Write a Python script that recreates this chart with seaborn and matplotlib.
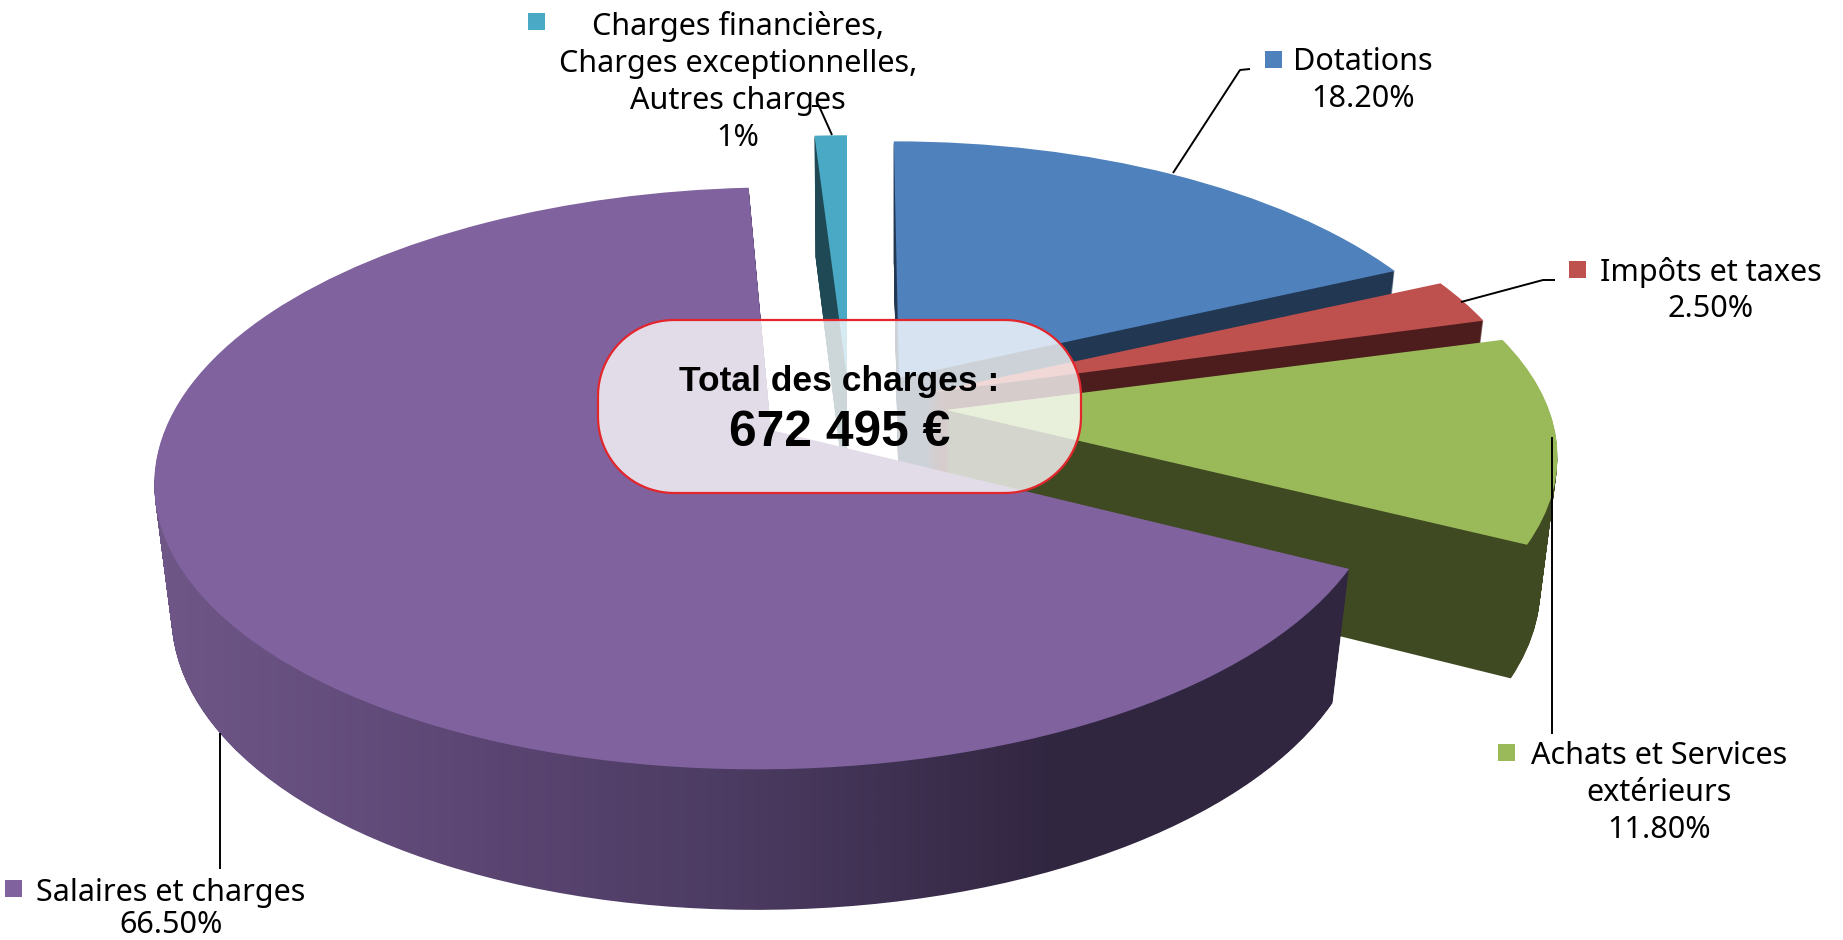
import numpy as np
import seaborn as sns
import matplotlib.pyplot as plt
import matplotlib.transforms as mtransforms
from matplotlib.patches import PathPatch, Rectangle
from matplotlib.path import Path

categories = ["Dotations", "Impôts et taxes", "Achats et Services\nextérieurs",
              "Salaires et charges",
              "Charges financières,\nCharges exceptionnelles,\nAutres charges"]
shares = [18.2, 2.5, 11.8, 66.5, 1.0]
share_labels = ["18.20%", "2.50%", "11.80%", "66.50%", "1%"]
total_title = "Total des charges :"
total_value = "672 495 €"

top_colors = ["#4f81bd", "#be504e", "#9aba5a", "#80629e", "#4aa9c4"]
wall_colors = ["#213752", "#4d1d1d", "#3f4a22", "#32273f", "#1f4a55"]
wall_ramp = ["#6f5888", "#5d4775", "#4a3a60", "#312640", "#32273f"]

# apex of each exploded slice on the picture, and paint order (back to front)
apex = [(899, 378), (927, 393), (946, 410), (771, 430), (847, 378)]
rank = [1, 2, 3, 4, 0]
# small per slice corrections of the camera: x scale, y scale, lean
fit = [(0.97, 0.975, -6), (1.0, 1.0, 0), (1.0, 0.97, 0), (1.005, 1.0, 12), (1.0, 1.0, 0)]

# camera of the 3d pie
SX, SY, PERSP = 603.0, 283.0, 0.166
DEPTH = 129.0
N_LAYERS = 130

sns.set_theme(style="white")
plt.rcParams["font.family"] = ["Noto Sans", "DejaVu Sans"]


class PiePlane(mtransforms.Transform):
    # maps the flat pie (unit circle) to the picture, t = 0 top face, t = 1 bottom face
    input_dims = 2
    output_dims = 2

    def __init__(self, centre, t, fit_i):
        super().__init__()
        self.centre = centre
        self.t = t
        self.fit_i = fit_i

    def transform_non_affine(self, values):
        values = np.asarray(values)
        fx, fy, lean = self.fit_i
        w = 1 + PERSP * values[:, 1]
        sx = fx * SX * (1 - 0.028 * self.t)
        sy = fy * SY * (1 + 0.034 * self.t)
        x = self.centre[0] + (sx * values[:, 0] + lean * values[:, 1]) / w
        y = self.centre[1] + DEPTH * self.t - sy * values[:, 1] / w
        return np.column_stack([x, y])


def rounded_box(x0, y0, x1, y1, r):
    # box outline with true circular corners
    a = np.linspace(0, np.pi / 2, 24)
    pts = np.vstack([
        np.column_stack([x1 - r + r * np.sin(a), y0 + r - r * np.cos(a)]),
        np.column_stack([x1 - r + r * np.cos(a), y1 - r + r * np.sin(a)]),
        np.column_stack([x0 + r - r * np.sin(a), y1 - r + r * np.cos(a)]),
        np.column_stack([x0 + r - r * np.cos(a), y0 + r - r * np.sin(a)]),
    ])
    return Path(np.vstack([pts, pts[:1]]), closed=True)


fig = plt.figure(figsize=(18.43, 9.40), dpi=100)
ax = fig.add_axes([0, 0, 1, 1])

# walls: pile of pies, deepest first
purple_paths = []
charges_clip = Rectangle((0, 0), 1843, 412, transform=ax.transData)
for t in np.linspace(1, 0, N_LAYERS):
    colors = top_colors if t == 0 else wall_colors
    wedges, _ = ax.pie(shares, startangle=90, counterclock=False, colors=colors, radius=1)
    for i, w in enumerate(wedges):
        plane = PiePlane(apex[i], t, fit[i])
        w.set_transform(plane + ax.transData)
        w.set_zorder(rank[i] + 0.5 * (1 - t))
        w.set_linewidth(0)
        if i == 3 and t > 0:
            w.set_visible(False)
            purple_paths.append(plane.transform_path_non_affine(w.get_path()))
        if i == 4 and t > 0:
            w.set_clip_path(charges_clip)

ramp = sns.blend_palette(wall_ramp, n_colors=256, as_cmap=True)
grad = ax.imshow(np.linspace(0, 1, 512).reshape(1, -1), cmap=ramp, aspect="auto",
                 extent=(150, 1360, 940, 0), zorder=rank[3] + 0.01)
grad.set_clip_path(Path.make_compound_path(*purple_paths), transform=ax.transData)

ax.set_aspect("auto")
ax.set_xlim(0, 1843)
ax.set_ylim(940, 0)
ax.axis("off")

# central box
box = PathPatch(rounded_box(598, 320, 1081, 493, 76), facecolor=(1, 1, 1, 0.78),
                edgecolor="#e3262c", linewidth=1.6, zorder=8)
ax.add_patch(box)
ax.text(839, 381, total_title, ha="center", va="center", fontsize=25.5,
        fontweight="bold", family="Liberation Sans", color="black", zorder=9)
ax.text(840, 433, total_value, ha="center", va="center", fontsize=35.8,
        fontweight="bold", family="Liberation Sans", color="black", zorder=9)

# labels
lab_xy = [(1363, 62), (1711, 272), (1659, 756), (171, 893), (738, 27)]
key_xy = [(1273, 59), (1577, 269), (1506, 752), (13.5, 888), (536, 21)]
line_gap = [37, 37, 37, 32, 37]
for i in range(5):
    lines = categories[i].split("\n") + [share_labels[i]]
    for j, txt in enumerate(lines):
        ax.text(lab_xy[i][0], lab_xy[i][1] + j * line_gap[i], txt, ha="center", va="center",
                fontsize=22, color="black", zorder=9)
    ax.add_patch(Rectangle((key_xy[i][0] - 8.5, key_xy[i][1] - 8.5), 17, 17,
                           facecolor=top_colors[i], edgecolor="none", zorder=9))

# leader lines
leaders = [([1173, 1240, 1250], [173, 70, 69]),
           ([1461, 1543, 1555], [302, 280, 280]),
           ([1552, 1552], [437, 734]),
           ([220, 220], [733, 869]),
           ([812, 819, 832], [106, 106, 135])]
for xs, ys in leaders:
    ax.plot(xs, ys, color="black", lw=1.4, zorder=7, solid_capstyle="butt")

fig.savefig("out.png", dpi=100, facecolor="white")
